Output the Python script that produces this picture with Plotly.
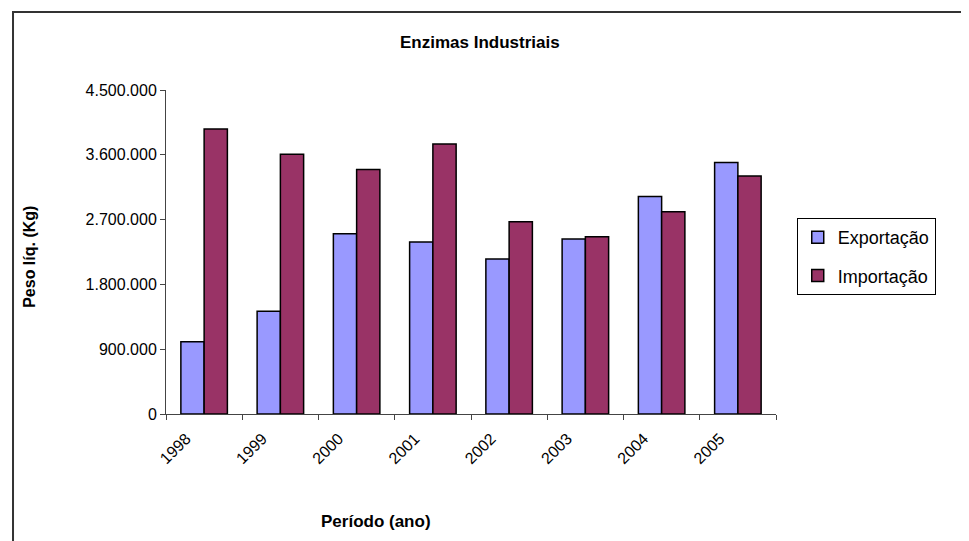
import plotly.graph_objects as go

anos = ['1998', '1999', '2000', '2001', '2002', '2003', '2004', '2005']
exportacao = [1002000, 1428000, 2504000, 2389000, 2153000, 2430000, 3022000, 3493000]
importacao = [3959000, 3608000, 3396000, 3751000, 2670000, 2462000, 2809000, 3304000]
yticks = [0, 900000, 1800000, 2700000, 3600000, 4500000]

fonte = 'Liberation Sans, Arial, sans-serif'

fig = go.Figure()
fig.add_trace(go.Bar(
    x=anos, y=exportacao, name='Exportação', legendgroup='exp',
    marker=dict(color='#9999FF', line=dict(color='black', width=1.5))
))
fig.add_trace(go.Bar(
    x=anos, y=importacao, name='Importação', legendgroup='imp',
    marker=dict(color='#993366', line=dict(color='black', width=1.5))
))

# a pagina tem 8px de margem no body, por isso a margem e compensada
fig.update_layout(
    width=969, height=541,
    margin=dict(l=158, r=201, t=82, b=135),
    paper_bgcolor='white', plot_bgcolor='white',
    separators=',.',
    barmode='group', bargap=0.39, bargroupgap=0,
    font=dict(family=fonte, size=15, color='black'),
    legend=dict(
        x=1.034, y=0.605, xanchor='left', yanchor='top',
        bordercolor='black', borderwidth=1, tracegroupgap=12,
        font=dict(size=18), bgcolor='white'
    ),
    annotations=[
        dict(text='<b>Enzimas Industriais</b>', x=0.515, y=1.148, xref='paper', yref='paper',
             xanchor='center', yanchor='middle', showarrow=False, font=dict(size=17)),
        dict(text='<b>Peso líq. (Kg)</b>', x=-0.223, y=0.485, xref='paper', yref='paper',
             xanchor='center', yanchor='middle', showarrow=False, textangle=-90,
             font=dict(size=16)),
        dict(text='<b>Período (ano)</b>', x=0.344, y=-0.333, xref='paper', yref='paper',
             xanchor='center', yanchor='middle', showarrow=False, font=dict(size=17)),
    ],
    shapes=[
        dict(type='rect', xref='paper', yref='paper',
             x0=-0.2508, x1=1.45, y0=-0.55, y1=1.2407,
             line=dict(color='#333333', width=2))
    ]
)

fig.update_xaxes(
    type='category', tickson='boundaries', ticks='outside', ticklen=5,
    showline=True, linecolor='#444444', linewidth=1, tickcolor='#444444',
    tickangle=-45, showgrid=False, tickfont=dict(size=16),
    ticklabelshift=-18, ticklabelstandoff=8
)
fig.update_yaxes(
    range=[0, 4500000], tickvals=yticks, tickformat=',.0f',
    ticks='outside', ticklen=5, showline=True, linecolor='#444444', linewidth=1,
    tickcolor='#444444', showgrid=False, zeroline=False, tickfont=dict(size=16)
)

fig.write_html('out.html')
